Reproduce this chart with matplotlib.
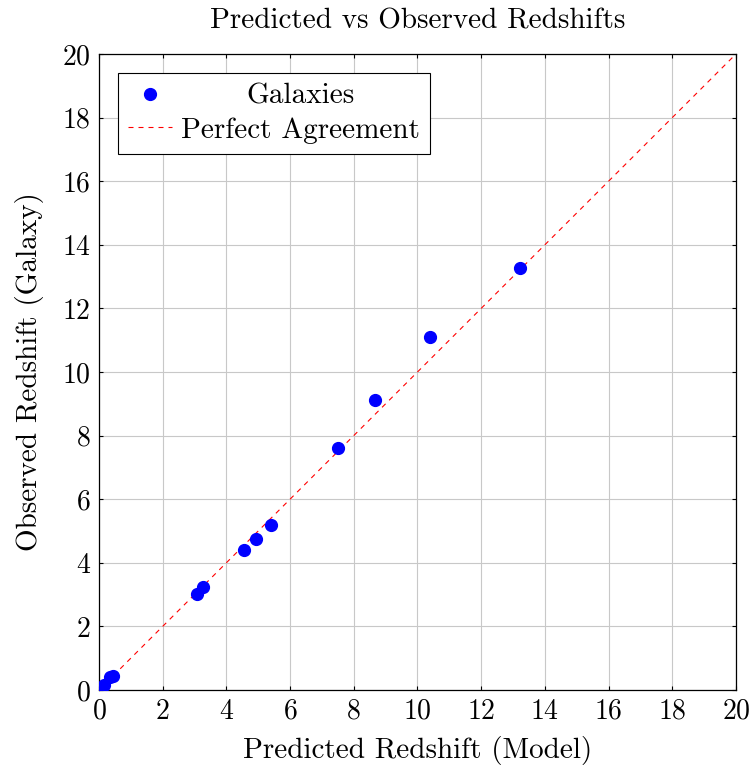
import numpy as np
import matplotlib.pyplot as plt

plt.rcParams['font.family'] = ['cmr10', 'DejaVu Serif']
plt.rcParams['axes.formatter.use_mathtext'] = True
plt.rcParams['mathtext.fontset'] = 'cm'

# predicted (model) vs observed (galaxy) redshifts
z_pred = [0.02, 0.15, 0.35, 0.45, 3.07, 3.26, 4.55, 4.93, 5.4, 7.5, 8.68, 10.39, 13.23]
z_obs = [0.02, 0.15, 0.4, 0.43, 3.02, 3.24, 4.4, 4.75, 5.2, 7.6, 9.12, 11.1, 13.27]
line_x = [0, 20]

fs = 21
fig = plt.figure(figsize=(7.51, 7.68), dpi=100)
ax = fig.add_axes([0.1318, 0.1016, 0.8482, 0.8281])

ax.plot(z_pred, z_obs, 'o', color='blue', markersize=8.5, label='Galaxies', zorder=3)
ax.plot(line_x, line_x, '--', color='red', lw=0.8, dashes=(4.5, 4.5), label='Perfect Agreement')

ax.set_xlim(0, 20)
ax.set_ylim(0, 20)
ax.set_xticks(np.arange(0, 21, 2))
ax.set_yticks(np.arange(0, 21, 2))
ax.grid(True, color='#c8c8c8', lw=0.8)
ax.set_axisbelow(True)
ax.tick_params(direction='in', top=True, right=True, labelsize=20, length=3, pad=6)
for s in ax.spines.values():
    s.set_linewidth(0.9)

ax.set_title('Predicted vs Observed Redshifts', fontsize=fs, pad=18)
ax.set_xlabel('Predicted Redshift (Model)', fontsize=fs, labelpad=8)
ax.set_ylabel('Observed Redshift (Galaxy)', fontsize=fs, labelpad=13)

# legend: first label drawn by hand so it sits centred like pgfplots
leg = ax.legend(loc='upper left', fontsize=fs, fancybox=False, edgecolor='black',
                framealpha=1, borderaxespad=0.66, handlelength=1.5,
                handletextpad=0.3, borderpad=0.35, labelspacing=0.25)
leg.get_frame().set_linewidth(0.8)
t0, t1 = leg.get_texts()
fig.canvas.draw()
r = fig.canvas.get_renderer()
e0 = t0.get_window_extent(r)
e1 = t1.get_window_extent(r)
shift = (e1.x0 + e1.width / 2) - (e0.x0 + e0.width / 2)
t0.set_visible(False)
x0, y0 = t0.get_transform().transform(t0.get_position())
fig.text((e0.x0 + shift + e0.width / 2) / fig.bbox.width, y0 / fig.bbox.height,
         'Galaxies', fontsize=fs, ha='center', va=t0.get_va(), zorder=10)

fig.savefig('out.png', dpi=100)
